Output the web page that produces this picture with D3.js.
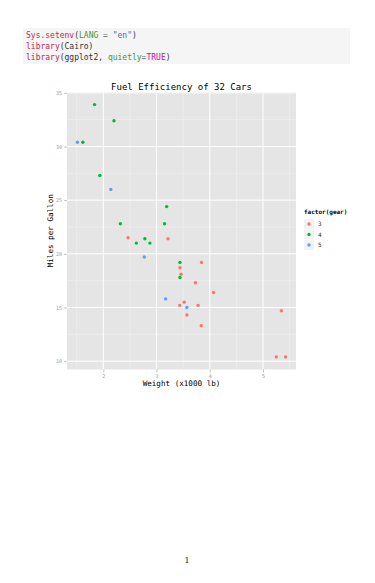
<!DOCTYPE html>
<html>
<head>
<meta charset="utf-8">
<script src="https://cdn.jsdelivr.net/npm/d3@7"></script>
<style>
  body { margin: 0; background: #fff; }
  svg { display: block; }
</style>
</head>
<body>
<script>
/* mtcars: weight (x1000 lb), miles per gallon, gears */
var wt   = [2.620, 2.875, 2.320, 3.215, 3.440, 3.460, 3.570, 3.190, 3.150, 3.440, 3.440,
            4.070, 3.730, 3.780, 5.250, 5.424, 5.345, 2.200, 1.615, 1.835, 2.465, 3.520,
            3.435, 3.840, 3.845, 1.935, 2.140, 1.513, 3.170, 2.770, 3.570, 2.780];
var mpg  = [21.0, 21.0, 22.8, 21.4, 18.7, 18.1, 14.3, 24.4, 22.8, 19.2, 17.8,
            16.4, 17.3, 15.2, 10.4, 10.4, 14.7, 32.4, 30.4, 33.9, 21.5, 15.5,
            15.2, 13.3, 19.2, 27.3, 26.0, 30.4, 15.8, 19.7, 15.0, 21.4];
var gear = [4, 4, 4, 3, 3, 3, 3, 4, 4, 4, 4,
            3, 3, 3, 3, 3, 3, 4, 4, 4, 3, 3,
            3, 3, 3, 4, 5, 5, 5, 5, 5, 4];
var gearLevels = ["3", "4", "5"];
var xTicks = [2, 3, 4, 5], xMinor = [1.5, 2.5, 3.5, 4.5, 5.5];
var yTicks = [10, 15, 20, 25, 30, 35], yMinor = [12.5, 17.5, 22.5, 27.5, 32.5];

var codeLines = [
  [["Sys.setenv", "#c7254e"], ["(", "#333"], ["LANG", "#3a9a3a"], [" = ", "#666"], ["\"en\"", "#4271ae"], [")", "#333"]],
  [["library", "#c7254e"], ["(Cairo)", "#333"]],
  [["library", "#c7254e"], ["(ggplot2, ", "#333"], ["quietly", "#3a9a3a"], ["=", "#666"], ["TRUE", "#b5139a"], [")", "#333"]]
];

var W = 375, H = 583,
    mono = "'DejaVu Sans Mono', monospace",
    panel = {left: 67, right: 296, top: 92, bottom: 369.5};

var svg = d3.select("body").append("svg").attr("width", W).attr("height", H);

/* code block */
svg.append("rect").attr("x", 23).attr("y", 28).attr("width", 327).attr("height", 36).attr("fill", "#f5f5f5");
codeLines.forEach(function(line, i) {
  var t = svg.append("text").attr("x", 26).attr("y", 38 + i * 11)
    .style("font-family", mono).style("font-size", "8px").attr("xml:space", "preserve");
  line.forEach(function(p) { t.append("tspan").attr("fill", p[1]).text(p[0]); });
});

/* scales */
var x = d3.scaleLinear().range([panel.left, panel.right]),
    y = d3.scaleLinear().range([panel.bottom, panel.top]),
    color = d3.scaleOrdinal().domain(gearLevels).range(["#F8766D", "#00BA38", "#619CFF"]);
// ggplot-style 5% expansion
var xExt = d3.extent(wt), yExt = d3.extent(mpg),
    dx = (xExt[1] - xExt[0]) * 0.05, dy = (yExt[1] - yExt[0]) * 0.05;
x.domain([xExt[0] - dx, xExt[1] + dx]);
y.domain([yExt[0] - dy, yExt[1] + dy]);

var g = svg.append("g");
g.append("rect").attr("x", panel.left).attr("y", panel.top)
  .attr("width", panel.right - panel.left).attr("height", panel.bottom - panel.top).attr("fill", "#e5e5e5");

g.selectAll(".xminor").data(xMinor).enter().append("line")
  .attr("x1", x).attr("x2", x).attr("y1", panel.top).attr("y2", panel.bottom)
  .attr("stroke", "#f2f2f2").attr("stroke-width", 0.5);
g.selectAll(".yminor").data(yMinor).enter().append("line")
  .attr("y1", y).attr("y2", y).attr("x1", panel.left).attr("x2", panel.right)
  .attr("stroke", "#f2f2f2").attr("stroke-width", 0.5);
g.selectAll(".xmajor").data(xTicks).enter().append("line")
  .attr("x1", x).attr("x2", x).attr("y1", panel.top).attr("y2", panel.bottom)
  .attr("stroke", "#fff").attr("stroke-width", 1);
g.selectAll(".ymajor").data(yTicks).enter().append("line")
  .attr("y1", y).attr("y2", y).attr("x1", panel.left).attr("x2", panel.right)
  .attr("stroke", "#fff").attr("stroke-width", 1);

/* axes */
var xAxis = svg.append("g").attr("transform", "translate(0," + panel.bottom + ")")
  .call(d3.axisBottom(x).tickValues(xTicks).tickFormat(d3.format("d")).tickSize(3).tickPadding(2));
var yAxis = svg.append("g").attr("transform", "translate(" + panel.left + ",0)")
  .call(d3.axisLeft(y).tickValues(yTicks).tickFormat(d3.format("d")).tickSize(3).tickPadding(2));
[xAxis, yAxis].forEach(function(a) {
  a.select(".domain").remove();
  a.selectAll(".tick line").attr("stroke", "#888").attr("stroke-width", 0.5);
  a.selectAll(".tick text").attr("fill", "#999").style("font-family", mono).style("font-size", "5px");
});

/* points */
g.selectAll("circle").data(d3.range(wt.length)).enter().append("circle")
  .attr("cx", function(i) { return x(wt[i]); })
  .attr("cy", function(i) { return y(mpg[i]); })
  .attr("r", 1.7)
  .attr("fill", function(i) { return color(String(gear[i])); });

/* titles */
svg.append("text").attr("x", (panel.left + panel.right) / 2).attr("y", 90)
  .attr("text-anchor", "middle").style("font-family", mono).style("font-size", "9px").attr("fill", "#000")
  .text("Fuel Efficiency of 32 Cars");
svg.append("text").attr("x", (panel.left + panel.right) / 2).attr("y", 386)
  .attr("text-anchor", "middle").style("font-family", mono).style("font-size", "7.6px").attr("fill", "#000")
  .text("Weight (x1000 lb)");
svg.append("text").attr("transform", "translate(53," + (panel.top + panel.bottom) / 2 + ") rotate(-90)")
  .attr("text-anchor", "middle").style("font-family", mono).style("font-size", "7.6px").attr("fill", "#000")
  .text("Miles per Gallon");

/* legend */
var legend = svg.append("g").attr("transform", "translate(304,214)");
legend.append("text").attr("x", 0).attr("y", 0)
  .style("font-family", mono).style("font-size", "6px").style("font-weight", "bold")
  .text("factor(gear)");
var key = legend.selectAll(".key").data(gearLevels).enter().append("g")
  .attr("transform", function(d, i) { return "translate(0," + (5 + i * 10.5) + ")"; });
key.append("rect").attr("width", 10).attr("height", 10).attr("fill", "#f2f2f2");
key.append("circle").attr("cx", 5).attr("cy", 5).attr("r", 1.7).attr("fill", function(d) { return color(d); });
key.append("text").attr("x", 14).attr("y", 7.2)
  .style("font-family", mono).style("font-size", "6px").attr("fill", "#333")
  .text(function(d) { return d; });

/* page number */
svg.append("text").attr("x", 187).attr("y", 563).attr("text-anchor", "middle")
  .style("font-family", "'DejaVu Serif', serif").style("font-size", "8px").attr("fill", "#222")
  .text("1");
</script>
</body>
</html>
